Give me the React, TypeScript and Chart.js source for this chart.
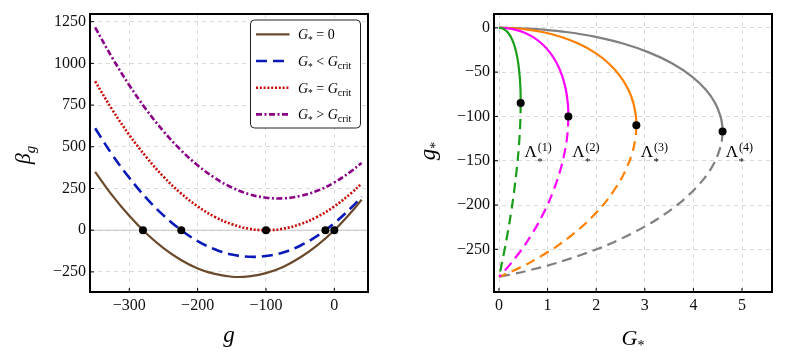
import React, { useEffect, useRef } from "react";
import { Chart, registerables } from "chart.js";

Chart.register(...registerables);

// ---------------- Left panel: beta_g versus g ----------------
const G_GRID = [-350, -325, -300, -275, -250, -225, -200, -175, -150, -125, -100, -75, -50, -25, 0, 25, 40];
const BETA_G0 = [350, 209, 86, -20, -107, -177, -229, -262, -279, -277, -257, -220, -164, -91, 0, 109, 183];
const BETA_BELOW = [611, 453, 314, 192, 89, 3, -65, -114, -146, -159, -155, -133, -93, -34, 42, 136, 201];
const BETA_CRIT = [893, 723, 571, 438, 321, 223, 143, 80, 36, 9, 0, 9, 36, 80, 143, 223, 280];
const BETA_ABOVE = [1216, 1034, 869, 722, 593, 482, 389, 314, 256, 216, 195, 191, 205, 236, 286, 354, 403];
const ROOTS_G = [-280, -224, -100, -13, 0];
const ROOTS_BETA = [0, 0, 0, 0, 0];
const LEFT_X_TICKS = [-300, -200, -100, 0];
const LEFT_Y_TICKS = [-250, 0, 250, 500, 750, 1000, 1250];
const LEGEND_REL = ["=", "<", "=", ">"];
const LEGEND_RHS = ["0", "crit", "crit", "crit"];

// ---------------- Right panel: g* versus G* ----------------
const GREEN_SOLID_G = [0, 0.061, 0.117, 0.179, 0.241, 0.305, 0.356, 0.396, 0.426, 0.442, 0.445, 0.446];
const GREEN_SOLID_GS = [0, -0.5, -2, -5, -10, -18, -28, -40, -55, -70, -78, -85];
const GREEN_DASH_G = [0.446, 0.442, 0.426, 0.392, 0.344, 0.285, 0.215, 0.134, 0.062, 0.024, 0];
const GREEN_DASH_GS = [-85, -100, -120, -145, -170, -195, -220, -245, -265, -275, -281];

const MAGENTA_SOLID_G = [0, 0.166, 0.326, 0.502, 0.687, 0.883, 1.05, 1.189, 1.305, 1.376, 1.415, 1.425, 1.427];
const MAGENTA_SOLID_GS = [0, -0.5, -2, -5, -10, -18, -28, -40, -55, -70, -85, -93, -100];
const MAGENTA_DASH_G = [1.427, 1.416, 1.385, 1.313, 1.21, 1.038, 0.814, 0.534, 0.26, 0.102, 0];
const MAGENTA_DASH_GS = [-100, -115, -130, -150, -170, -195, -220, -245, -265, -275, -281];

const ORANGE_SOLID_G = [0, 0.301, 0.593, 0.919, 1.268, 1.644, 1.972, 2.254, 2.499, 2.663, 2.765, 2.817, 2.824, 2.826];
const ORANGE_SOLID_GS = [0, -0.5, -2, -5, -10, -18, -28, -40, -55, -70, -85, -100, -105, -110];
const ORANGE_DASH_G = [2.826, 2.817, 2.771, 2.688, 2.52, 2.216, 1.796, 1.233, 0.635, 0.261, 0];
const ORANGE_DASH_GS = [-110, -120, -135, -150, -170, -195, -220, -245, -265, -275, -281];

const GREY_SOLID_G = [0, 0.462, 0.913, 1.422, 1.969, 2.567, 3.095, 3.557, 3.971, 4.257, 4.448, 4.558, 4.593, 4.6];
const GREY_SOLID_GS = [0, -0.5, -2, -5, -10, -18, -28, -40, -55, -70, -85, -100, -110, -117];
const GREY_DASH_G = [4.6, 4.577, 4.453, 4.223, 3.779, 3.137, 2.234, 1.214, 0.524, 0];
const GREY_DASH_GS = [-117, -130, -150, -170, -195, -220, -245, -265, -275, -281];

const TURN_G = [0.446, 1.427, 2.826, 4.6];
const TURN_GS = [-85, -100, -110, -117];
const LAMBDA_INDEX = ["1", "2", "3", "4"];
const LAMBDA_G = [0.525, 1.508, 2.916, 4.665];
const LAMBDA_GS = [-146, -146, -146, -146];
const RIGHT_X_TICKS = [0, 1, 2, 3, 4, 5];
const RIGHT_Y_TICKS = [-250, -200, -150, -100, -50, 0];

// ---------------- styling ----------------
const SERIF = '"Liberation Serif", "Times New Roman", serif';
const BROWN = "#6b4a2b";
const BLUE = "#0a1ab8";
const RED = "#cc0a0a";
const PURPLE = "#880088";
const GREEN = "#1a9e1a";
const MAGENTA = "#ff00ff";
const ORANGE = "#ff8000";
const GREY = "#808080";
const GRID = "#dadada";

const pts = (xs: number[], ys: number[]) => xs.map((x, i) => ({ x, y: ys[i] }));
const fmt = (v: number) => (v < 0 ? "\u2212" + Math.abs(v) : String(v));

type Part = { t: string; size: number; italic?: boolean; dy?: number; gap?: number; stack?: boolean };

function partsWidth(ctx: CanvasRenderingContext2D, parts: Part[]) {
  let w = 0;
  for (const p of parts) {
    w += p.gap || 0;
    ctx.font = `${p.italic ? "italic " : ""}${p.size}px ${SERIF}`;
    if (!p.stack) w += ctx.measureText(p.t).width;
  }
  return w;
}

function drawParts(ctx: CanvasRenderingContext2D, x: number, y: number, parts: Part[], align: "left" | "center") {
  ctx.save();
  ctx.textBaseline = "alphabetic";
  ctx.textAlign = "left";
  ctx.fillStyle = "#000";
  let cx = align === "center" ? x - partsWidth(ctx, parts) / 2 : x;
  for (const p of parts) {
    cx += p.gap || 0;
    ctx.font = `${p.italic ? "italic " : ""}${p.size}px ${SERIF}`;
    ctx.fillText(p.t, cx, y + (p.dy || 0));
    if (!p.stack) cx += ctx.measureText(p.t).width;
  }
  ctx.restore();
}

function drawFrame(chart: any, xTicks: number[], yTicks: number[]) {
  const { ctx, chartArea: a, scales } = chart;
  ctx.save();
  ctx.strokeStyle = "#000";
  ctx.lineWidth = 1;
  ctx.beginPath();
  for (const v of xTicks) {
    const px = scales.x.getPixelForValue(v);
    ctx.moveTo(px, a.bottom);
    ctx.lineTo(px, a.bottom - 4);
  }
  for (const v of yTicks) {
    const py = scales.y.getPixelForValue(v);
    ctx.moveTo(a.left, py);
    ctx.lineTo(a.left + 4, py);
  }
  ctx.stroke();
  ctx.lineWidth = 2;
  ctx.strokeRect(a.left, a.top, a.right - a.left, a.bottom - a.top);
  ctx.restore();
}

function scaleOpts(min: number, max: number, ticks: number[], axis: "x" | "y", size: number) {
  return {
    type: "linear",
    min,
    max,
    afterBuildTicks: (s: any) => {
      s.ticks = ticks.map((v) => ({ value: v }));
    },
    afterFit: (s: any) => {
      if (axis === "x") s.height = size;
      else s.width = size;
    },
    ticks: {
      autoSkip: false,
      maxRotation: 0,
      minRotation: 0,
      padding: 4,
      color: "#111",
      font: { family: SERIF, size: 16 },
      callback: (v: any) => fmt(Number(v)),
    },
    grid: { color: GRID, lineWidth: 1, drawTicks: false },
    border: { display: false, dash: [4, 4] },
  };
}

const lineDs = (label: string, xs: number[], ys: number[], color: string, width: number, dash: number[], tension: number) => ({
  label,
  data: pts(xs, ys),
  showLine: true,
  borderColor: color,
  backgroundColor: color,
  borderWidth: width,
  borderDash: dash,
  borderCapStyle: "butt",
  pointRadius: 0,
  pointHoverRadius: 0,
  tension,
  fill: false,
});

const leftPlugin = {
  id: "leftDecor",
  beforeDatasetsDraw(chart: any) {
    const { ctx, chartArea: a, scales } = chart;
    const y0 = scales.y.getPixelForValue(0);
    ctx.save();
    ctx.strokeStyle = "#c4c4c4";
    ctx.lineWidth = 1;
    ctx.beginPath();
    ctx.moveTo(a.left, y0);
    ctx.lineTo(a.right, y0);
    ctx.stroke();
    ctx.restore();
  },
  afterDraw(chart: any) {
    const { ctx, chartArea: a } = chart;
    drawFrame(chart, LEFT_X_TICKS, LEFT_Y_TICKS);

    // legend box
    ctx.save();
    const bx = 250.5, by = 20, bw = 110, bh = 108, r = 4;
    ctx.beginPath();
    ctx.moveTo(bx + r, by);
    ctx.arcTo(bx + bw, by, bx + bw, by + bh, r);
    ctx.arcTo(bx + bw, by + bh, bx, by + bh, r);
    ctx.arcTo(bx, by + bh, bx, by, r);
    ctx.arcTo(bx, by, bx + bw, by, r);
    ctx.closePath();
    ctx.fillStyle = "#fff";
    ctx.fill();
    ctx.strokeStyle = "#222";
    ctx.lineWidth = 1;
    ctx.stroke();
    const ds = chart.data.datasets.slice(1);
    ds.forEach((d: any, i: number) => {
      const ry = 34.3 + i * 26.7;
      ctx.save();
      ctx.strokeStyle = d.borderColor;
      ctx.lineWidth = d.borderWidth;
      ctx.setLineDash(d.borderDash);
      ctx.beginPath();
      ctx.moveTo(256, ry);
      ctx.lineTo(289.5, ry);
      ctx.stroke();
      ctx.restore();
      const parts: Part[] = [
        { t: "G", size: 14, italic: true },
        { t: "*", size: 9.5, dy: 3.5 },
        { t: LEGEND_REL[i], size: 14, gap: 3.5 },
      ];
      if (LEGEND_RHS[i] === "0") parts.push({ t: "0", size: 14, gap: 3.5 });
      else parts.push({ t: "G", size: 14, italic: true, gap: 3.5 }, { t: "crit", size: 10, dy: 3 });
      drawParts(ctx, 298, ry + 5, parts, "left");
    });
    ctx.restore();

    // axis titles
    drawParts(ctx, (a.left + a.right) / 2, 342, [{ t: "g", size: 23, italic: true }], "center");
    ctx.save();
    ctx.translate(30, (a.top + a.bottom) / 2 + 2);
    ctx.rotate(-Math.PI / 2);
    drawParts(ctx, 0, 0, [
      { t: "\u03B2", size: 22, italic: true },
      { t: "g", size: 15, italic: true, dy: 5 },
    ], "center");
    ctx.restore();
  },
};

const rightPlugin = {
  id: "rightDecor",
  afterDraw(chart: any) {
    const { ctx, chartArea: a, scales } = chart;
    drawFrame(chart, RIGHT_X_TICKS, RIGHT_Y_TICKS);
    LAMBDA_INDEX.forEach((n, i) => {
      const px = scales.x.getPixelForValue(LAMBDA_G[i]);
      const py = scales.y.getPixelForValue(LAMBDA_GS[i]);
      drawParts(ctx, px, py, [
        { t: "\u039B", size: 17 },
        { t: "*", size: 11, dy: 8, stack: true, gap: 0.5 },
        { t: `(${n})`, size: 12, dy: -6.5, gap: 0.5 },
      ], "left");
    });
    drawParts(ctx, (a.left + a.right) / 2, 345, [
      { t: "G", size: 22, italic: true },
      { t: "*", size: 14, dy: 5 },
    ], "center");
    ctx.save();
    ctx.translate(35, (a.top + a.bottom) / 2 - 2);
    ctx.rotate(-Math.PI / 2);
    drawParts(ctx, 0, 0, [
      { t: "g", size: 23, italic: true },
      { t: "*", size: 14, dy: 5 },
    ], "center");
    ctx.restore();
  },
};

function leftConfig(): any {
  return {
    type: "scatter",
    data: {
      datasets: [
        {
          label: "roots",
          data: pts(ROOTS_G, ROOTS_BETA),
          showLine: false,
          pointRadius: 4,
          pointBackgroundColor: "#000",
          pointBorderWidth: 0,
          pointHoverRadius: 4,
        },
        lineDs("G*=0", G_GRID, BETA_G0, BROWN, 2.2, [], 0.4),
        lineDs("G*<Gcrit", G_GRID, BETA_BELOW, BLUE, 2.6, [11, 6], 0.4),
        lineDs("G*=Gcrit", G_GRID, BETA_CRIT, RED, 2.6, [2, 1.8], 0.4),
        lineDs("G*>Gcrit", G_GRID, BETA_ABOVE, PURPLE, 2.6, [6, 2.5, 2, 2.5], 0.4),
      ],
    },
    options: {
      responsive: false,
      maintainAspectRatio: false,
      animation: false,
      devicePixelRatio: 1,
      events: [],
      layout: { padding: { left: 0, right: 32, top: 14, bottom: 0 } },
      plugins: { legend: { display: false }, tooltip: { enabled: false } },
      scales: {
        x: scaleOpts(-357.5, 49.3, LEFT_X_TICKS, "x", 62),
        y: scaleOpts(-370.5, 1296, LEFT_Y_TICKS, "y", 90),
      },
    },
    plugins: [leftPlugin],
  };
}

function rightConfig(): any {
  return {
    type: "scatter",
    data: {
      datasets: [
        {
          label: "turning",
          data: pts(TURN_G, TURN_GS),
          showLine: false,
          pointRadius: 4,
          pointBackgroundColor: "#000",
          pointBorderWidth: 0,
          pointHoverRadius: 4,
        },
        lineDs("L1", GREEN_SOLID_G, GREEN_SOLID_GS, GREEN, 2.2, [], 0.3),
        lineDs("L2", MAGENTA_SOLID_G, MAGENTA_SOLID_GS, MAGENTA, 2.2, [], 0.3),
        lineDs("L3", ORANGE_SOLID_G, ORANGE_SOLID_GS, ORANGE, 2.2, [], 0.3),
        lineDs("L4", GREY_SOLID_G, GREY_SOLID_GS, GREY, 2.2, [], 0.3),
        lineDs("L1d", GREEN_DASH_G, GREEN_DASH_GS, GREEN, 2.2, [10, 6], 0.3),
        lineDs("L2d", MAGENTA_DASH_G, MAGENTA_DASH_GS, MAGENTA, 2.2, [10, 6], 0.3),
        lineDs("L3d", ORANGE_DASH_G, ORANGE_DASH_GS, ORANGE, 2.2, [10, 6], 0.3),
        lineDs("L4d", GREY_DASH_G, GREY_DASH_GS, GREY, 2.2, [10, 6], 0.3),
      ],
    },
    options: {
      responsive: false,
      maintainAspectRatio: false,
      animation: false,
      devicePixelRatio: 1,
      events: [],
      layout: { padding: { left: 0, right: 30, top: 14, bottom: 0 } },
      plugins: { legend: { display: false }, tooltip: { enabled: false } },
      scales: {
        x: scaleOpts(-0.103, 5.617, RIGHT_X_TICKS, "x", 62),
        y: scaleOpts(-298.2, 15.6, RIGHT_Y_TICKS, "y", 94),
      },
    },
    plugins: [rightPlugin],
  };
}

export default function App() {
  const leftRef = useRef<HTMLCanvasElement>(null);
  const rightRef = useRef<HTMLCanvasElement>(null);
  useEffect(() => {
    const c1 = new Chart(leftRef.current as HTMLCanvasElement, leftConfig());
    const c2 = new Chart(rightRef.current as HTMLCanvasElement, rightConfig());
    return () => {
      c1.destroy();
      c2.destroy();
    };
  }, []);
  return (
    <div style={{ position: "fixed", left: 0, top: 0, width: 802, height: 354, background: "#fff" }}>
      <canvas
        ref={leftRef}
        width={400}
        height={354}
        style={{ position: "absolute", left: 0, top: 0, width: 400, height: 354 }}
      />
      <canvas
        ref={rightRef}
        width={402}
        height={354}
        style={{ position: "absolute", left: 400, top: 0, width: 402, height: 354 }}
      />
    </div>
  );
}
